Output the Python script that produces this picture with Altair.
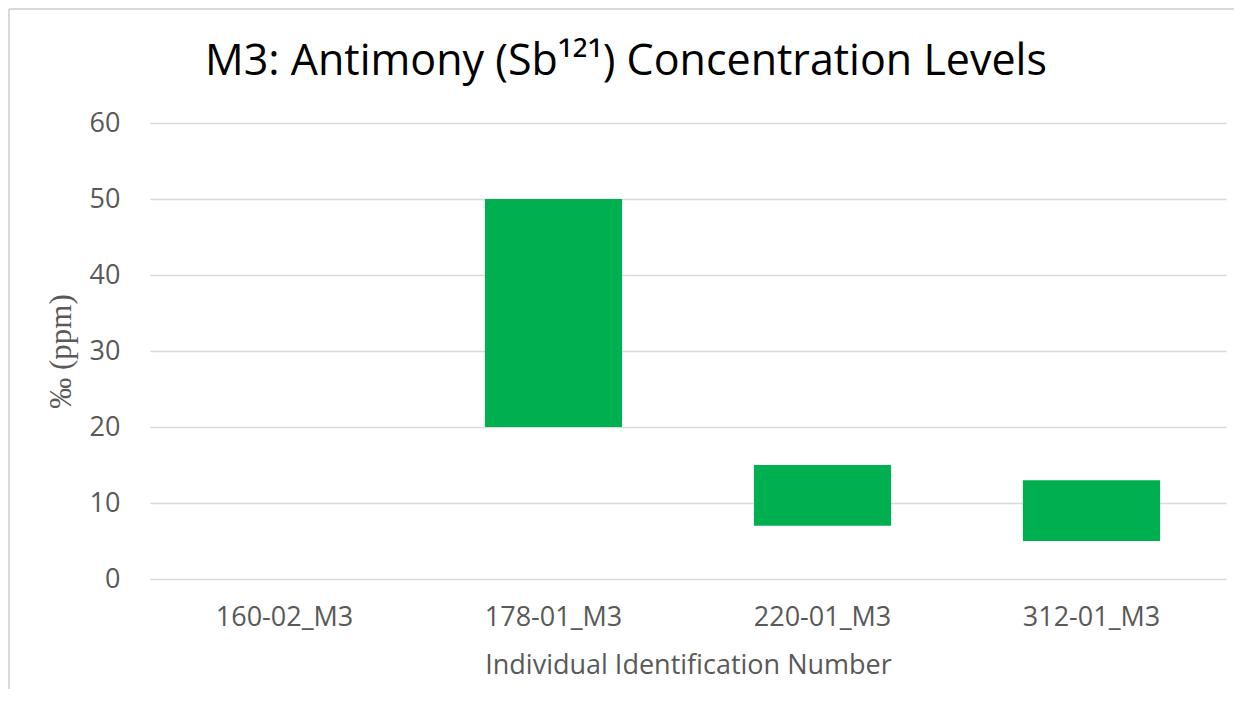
import altair as alt
import pandas as pd

categories = ["160-02_M3", "178-01_M3", "220-01_M3", "312-01_M3"]
low_values = [None, 20, 7, 5]
high_values = [None, 50, 15, 13]

df = pd.DataFrame({"id": categories, "low": low_values, "high": high_values})

W, H = 1076, 456
FONT = "Open Sans, sans-serif"
one = pd.DataFrame({"a": [0]})

left_edge = alt.Chart(one).mark_rule(color="#d9d9d9", strokeWidth=2).encode(
    x=alt.value(-141), y=alt.value(-114), y2=alt.value(H + 110)
)
top_edge = alt.Chart(one).mark_rule(color="#d9d9d9", strokeWidth=2).encode(
    x=alt.value(-141), x2=alt.value(W + 8), y=alt.value(-114)
)

bars = alt.Chart(df).mark_bar(color="#00b050").encode(
    x=alt.X("id:N", sort=categories,
            scale=alt.Scale(domain=categories, paddingInner=0.49, paddingOuter=0.245),
            axis=alt.Axis(title="Individual Identification Number", labelAngle=0,
                          labelFontSize=27, labelColor="#595959", labelPadding=25,
                          titleFontSize=27, titleColor="#595959", titleFontWeight="normal",
                          titlePadding=22, domain=False, ticks=False, grid=False,
                          labelFont=FONT, titleFont=FONT)),
    y=alt.Y("low:Q", scale=alt.Scale(domain=[0, 60]),
            axis=alt.Axis(title="‰ (ppm)", values=[0, 10, 20, 30, 40, 50, 60],
                          labelFontSize=27, labelColor="#595959", labelPadding=30,
                          titleFont="Liberation Serif", titleFontSize=31,
                          titleColor="#595959", titleFontWeight="normal", titlePadding=12,
                          domain=False, ticks=False, gridColor="#d9d9d9", gridWidth=1.5,
                          labelFont=FONT)),
    y2="high:Q",
)

chart = alt.layer(left_edge, top_edge, bars).properties(
    width=W, height=H,
    title=alt.TitleParams("M3: Antimony (Sb¹²¹) Concentration Levels",
                          fontSize=43, font=FONT, fontWeight="normal", color="#000000",
                          anchor="middle", frame="group", dx=-62, offset=-76),
    autosize=alt.AutoSizeParams(type="none"),
    padding={"left": 142, "top": 115, "right": 10, "bottom": 112},
).configure_view(stroke=None)

chart.save("out.html", embed_options={"renderer": "svg", "actions": False})
